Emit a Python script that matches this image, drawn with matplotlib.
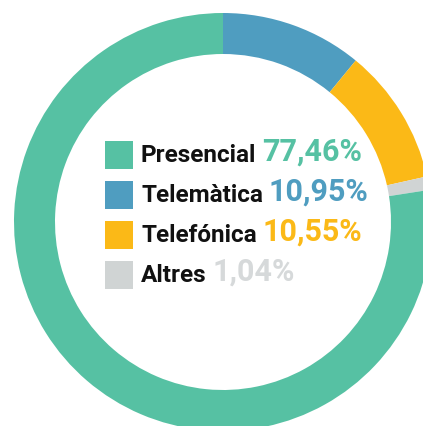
import matplotlib
matplotlib.use("Agg")
import matplotlib.pyplot as plt

# dades
categories = ["Telemàtica", "Telefónica", "Altres", "Presencial"]
values = [10.95, 10.55, 1.04, 77.46]
colors = ["#4F9DC0", "#FBB917", "#D0D4D4", "#56C1A3"]

legend_order = ["Presencial", "Telemàtica", "Telefónica", "Altres"]
legend_labels = ["77,46%", "10,95%", "10,55%", "1,04%"]
legend_colors = ["#56C1A3", "#4F9DC0", "#FBB917", "#D0D4D4"]

plt.rcParams['font.family'] = ['Roboto', 'DejaVu Sans']

fig = plt.figure(figsize=(4.23, 4.26), dpi=100)
ax = fig.add_axes([0, 0, 1, 1])
ax.set_xlim(0, 423)
ax.set_ylim(0, 426)
ax.axis('off')

ax.pie(values, colors=colors, startangle=90, counterclock=False,
       center=(223, 204), radius=209,
       wedgeprops=dict(width=41, linewidth=0))
ax.set_xlim(0, 423)
ax.set_ylim(0, 426)

# llegenda dins del donut
y0 = 264
for i, name in enumerate(legend_order):
    y = y0 - i * 40
    ax.add_patch(plt.Rectangle((105, y - 7), 28, 28, color=legend_colors[i], lw=0))
    t = ax.text(141, y, name, fontsize=17.5, fontweight='bold', color='#111111', va='baseline')
    c = legend_colors[i]
    if name == "Altres":
        c = "#D6D9DA"
    ax.annotate(legend_labels[i], xy=(1, 0), xycoords=t, xytext=(6, 0),
                textcoords='offset pixels', va='bottom', ha='left',
                fontsize=22, fontweight='semibold', color=c)

fig.savefig("out.png", dpi=100)
